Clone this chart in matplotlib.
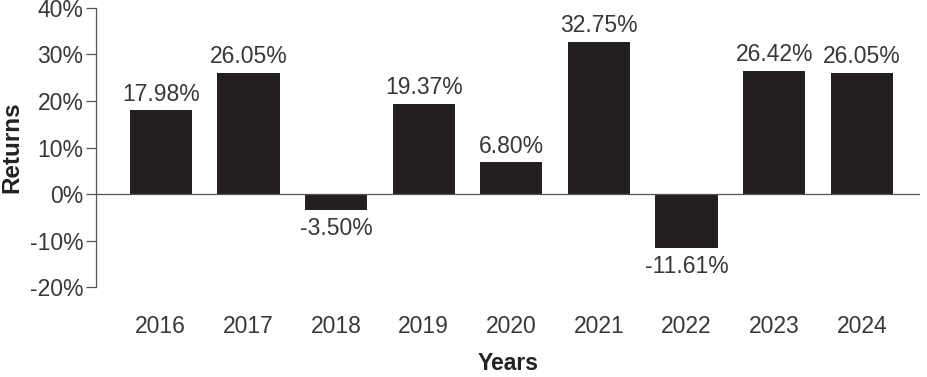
import matplotlib.pyplot as plt
import numpy as np

plt.rcParams['font.family'] = ['Liberation Sans', 'DejaVu Sans']

years = ['2016', '2017', '2018', '2019', '2020', '2021', '2022', '2023', '2024']
returns = [17.98, 26.05, -3.50, 19.37, 6.80, 32.75, -11.61, 26.42, 26.05]
y_ticks = [-20, -10, 0, 10, 20, 30, 40]

text_color = '#383838'
bar_color = '#231f20'
fs = 16.5

fig = plt.figure(figsize=(9.28, 3.77), dpi=100)
ax = fig.add_axes([0.1034, 0.2387, 0.8876, 0.7401])

x = np.arange(len(years))
ax.bar(x, returns, width=0.71, color=bar_color, zorder=2)
ax.axhline(0, color='#555555', linewidth=0.9, zorder=3)

for xi, v in zip(x, returns):
    if v >= 0:
        ax.text(xi, v + 1.0, f'{v:.2f}%', ha='center', va='bottom',
                fontsize=fs, color=text_color)
    else:
        ax.text(xi, v - 1.4, f'{v:.2f}%', ha='center', va='top',
                fontsize=fs, color=text_color)

ax.set_xlim(-0.74, 8.66)
ax.set_ylim(-20, 40)
ax.set_yticks(y_ticks)
ax.set_yticklabels([f'{t}%' for t in y_ticks], fontsize=fs, color=text_color)
ax.set_xticks(x)
ax.set_xticklabels(years, fontsize=fs, color=text_color)
ax.tick_params(axis='x', length=0, pad=20.5)
ax.tick_params(axis='y', length=7, width=0.9, color='#555555', pad=2)

for side in ['top', 'right', 'bottom']:
    ax.spines[side].set_visible(False)
ax.spines['left'].set_color('#555555')
ax.spines['left'].set_linewidth(0.9)

ax.set_ylabel('Returns', fontsize=17.5, fontweight='bold', color='#222222', va='center')
ax.yaxis.set_label_coords(-0.102, 0.5)
ax.set_xlabel('Years', fontsize=16.5, fontweight='bold', color='#222222', va='center')
ax.xaxis.set_label_coords(0.5, -0.275)

fig.savefig('out.png', dpi=100)
